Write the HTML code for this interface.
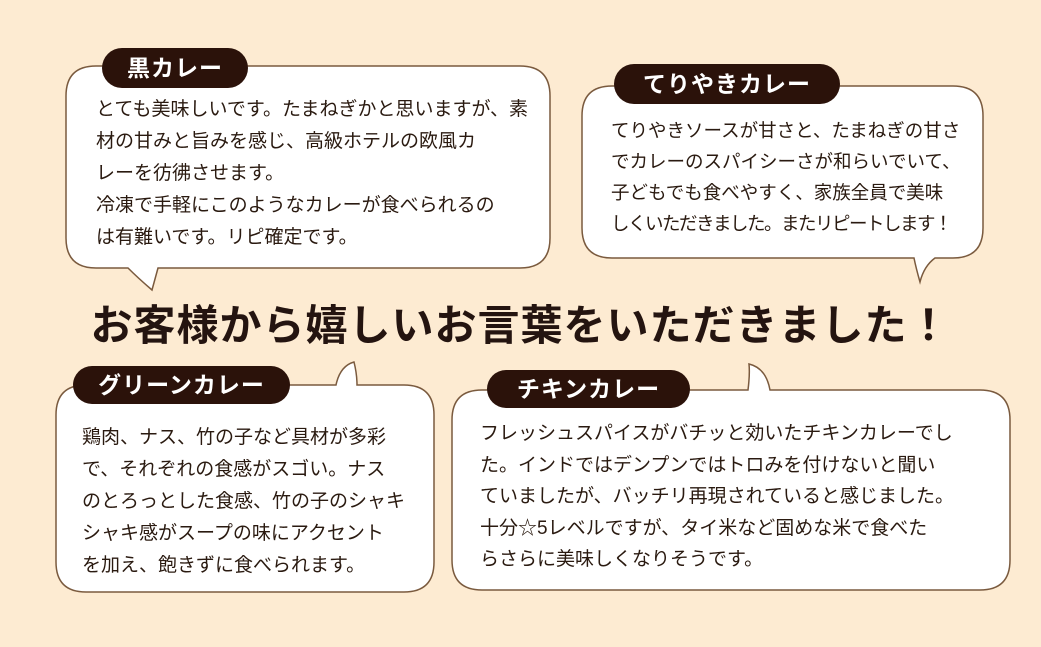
<!DOCTYPE html>
<html><head><meta charset="utf-8">
<style>
body{margin:0;width:1041px;height:647px;background:#fdebd2;position:relative;overflow:hidden;font-family:"Liberation Sans","Noto Sans CJK JP",sans-serif;color:#2a1a10}
svg{position:absolute;left:0;top:0}
.t{position:absolute;font-size:19px;white-space:nowrap;letter-spacing:0}
.pill{position:absolute;background:#2b120a;color:#fff;font-weight:bold;font-size:23px;border-radius:20px;text-align:center;letter-spacing:1px}
.title{position:absolute;left:0;width:1041px;top:292px;text-align:center;font-size:42px;font-weight:bold;color:#241410;letter-spacing:1px}
</style></head><body>
<svg width="1041" height="647">
<g fill="#fff" stroke="#7a5a3e" stroke-width="1.5">
<path d="M96,66 H520 Q550,66 550,96 V238 Q550,268 520,268 H158 L152,290 Q138,278 128,268 H96 Q66,268 66,238 V96 Q66,66 96,66 Z"/>
<path d="M612,86 H953 Q983,86 983,116 V228 Q983,258 953,258 H935 Q924,266 920,282 Q916,268 914,258 H612 Q582,258 582,228 V116 Q582,86 612,86 Z"/>
<path d="M86,385 H336 Q340,366 354,362 Q357,374 357,385 H404 Q434,385 434,415 V562 Q434,592 404,592 H86 Q56,592 56,562 V415 Q56,385 86,385 Z"/>
<path d="M482,390 H748 Q750,374 749,364 Q766,368 770,390 H980 Q1010,390 1010,420 V560 Q1010,590 980,590 H482 Q452,590 452,560 V420 Q452,390 482,390 Z"/>
</g>
</svg>
<div class="pill" style="left:102px;top:48px;width:146px;height:40px;line-height:40px">黒カレー</div>
<div class="pill" style="left:614px;top:64px;width:226px;height:40px;line-height:40px">てりやきカレー</div>
<div class="pill" style="left:73px;top:366px;width:217px;height:38px;line-height:38px">グリーンカレー</div>
<div class="pill" style="left:487px;top:370px;width:203px;height:38px;line-height:38px">チキンカレー</div>
<div class="t" style="left:96px;top:94px;line-height:32px">とても美味しいです。たまねぎかと思いますが、素<br>材の甘みと旨みを感じ、高級ホテルの欧風カ<br>レーを彷彿させます。<br>冷凍で手軽にこのようなカレーが食べられるの<br>は有難いです。リピ確定です。</div>
<div class="t" style="left:611px;top:115px;line-height:31px;font-size:18.5px">てりやきソースが甘さと、たまねぎの甘さ<br>でカレーのスパイシーさが和らいでいて、<br>子どもでも食べやすく、家族全員で美味<br><span style="letter-spacing:-1.5px">しくいただきました。またリピートします！</span></div>
<div class="t" style="left:82px;top:422px;line-height:32px">鶏肉、ナス、竹の子など具材が多彩<br>で、それぞれの食感がスゴい。ナス<br>のとろっとした食感、竹の子のシャキ<br>シャキ感がスープの味にアクセント<br>を加え、飽きずに食べられます。</div>
<div class="t" style="left:480px;top:418px;line-height:31.5px">フレッシュスパイスがバチッと効いたチキンカレーでし<br>た。インドではデンプンではトロみを付けないと聞い<br>ていましたが、バッチリ再現されていると感じました。<br>十分☆5レベルですが、タイ米など固めな米で食べた<br>らさらに美味しくなりそうです。</div>
<div class="title">お客様から嬉しいお言葉をいただきました！</div>
</body></html>
